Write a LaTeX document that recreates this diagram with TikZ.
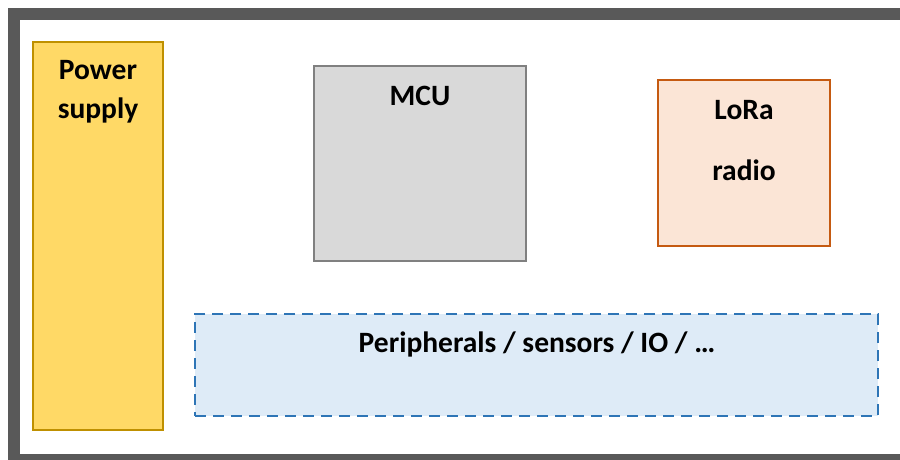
\documentclass[tikz,border=0pt]{standalone}
\usepackage{fontspec}
\setmainfont{Carlito}
\definecolor{framegray}{HTML}{595959}
\definecolor{psfill}{HTML}{FFD966}
\definecolor{psborder}{HTML}{BF9000}
\definecolor{mcufill}{HTML}{D9D9D9}
\definecolor{mcuborder}{HTML}{808080}
\definecolor{lorafill}{HTML}{FBE5D6}
\definecolor{loraborder}{HTML}{C55A11}
\definecolor{perfill}{HTML}{DEEBF7}
\definecolor{perborder}{HTML}{2E75B6}
\begin{document}
\begin{tikzpicture}[x=1pt, y=-1pt,
    box/.style={draw, line width=2pt, inner sep=0pt},
    lbl/.style={font=\bfseries\fontsize{29.5}{39}\selectfont, align=center}]
    \useasboundingbox (0,0) rectangle (900,460);

    % Outer board frame
    \begin{scope}
        \clip (0,0) rectangle (900,460);
        \draw[framegray, line width=12pt] (14,14) rectangle (906,460);
    \end{scope}

    % Power supply
    \node[box, draw=psborder, fill=psfill, minimum width=130pt, minimum height=388pt] (power) at (98,236) {};
    \node[lbl] (powertext) at (98,92) {Power\\supply};

    % MCU
    \node[box, draw=mcuborder, fill=mcufill, minimum width=212pt, minimum height=195pt] (mcu) at (420,163.5) {};
    \node[lbl] (mcutext) at (420,96) {MCU};

    % LoRa radio
    \node[box, draw=loraborder, fill=lorafill, minimum width=172pt, minimum height=166pt] (lora) at (744,163) {};
    \node[lbl] (loratext) at (744,141) {LoRa\\[22pt]radio};

    % Peripherals
    \node[box, draw=perborder, fill=perfill, dash pattern=on 11pt off 7pt, minimum width=683pt, minimum height=102pt] (periph) at (536.5,365) {};
    \node[lbl] (periphtext) at (537,344) {Peripherals / sensors / IO / …};
\end{tikzpicture}
\end{document}
